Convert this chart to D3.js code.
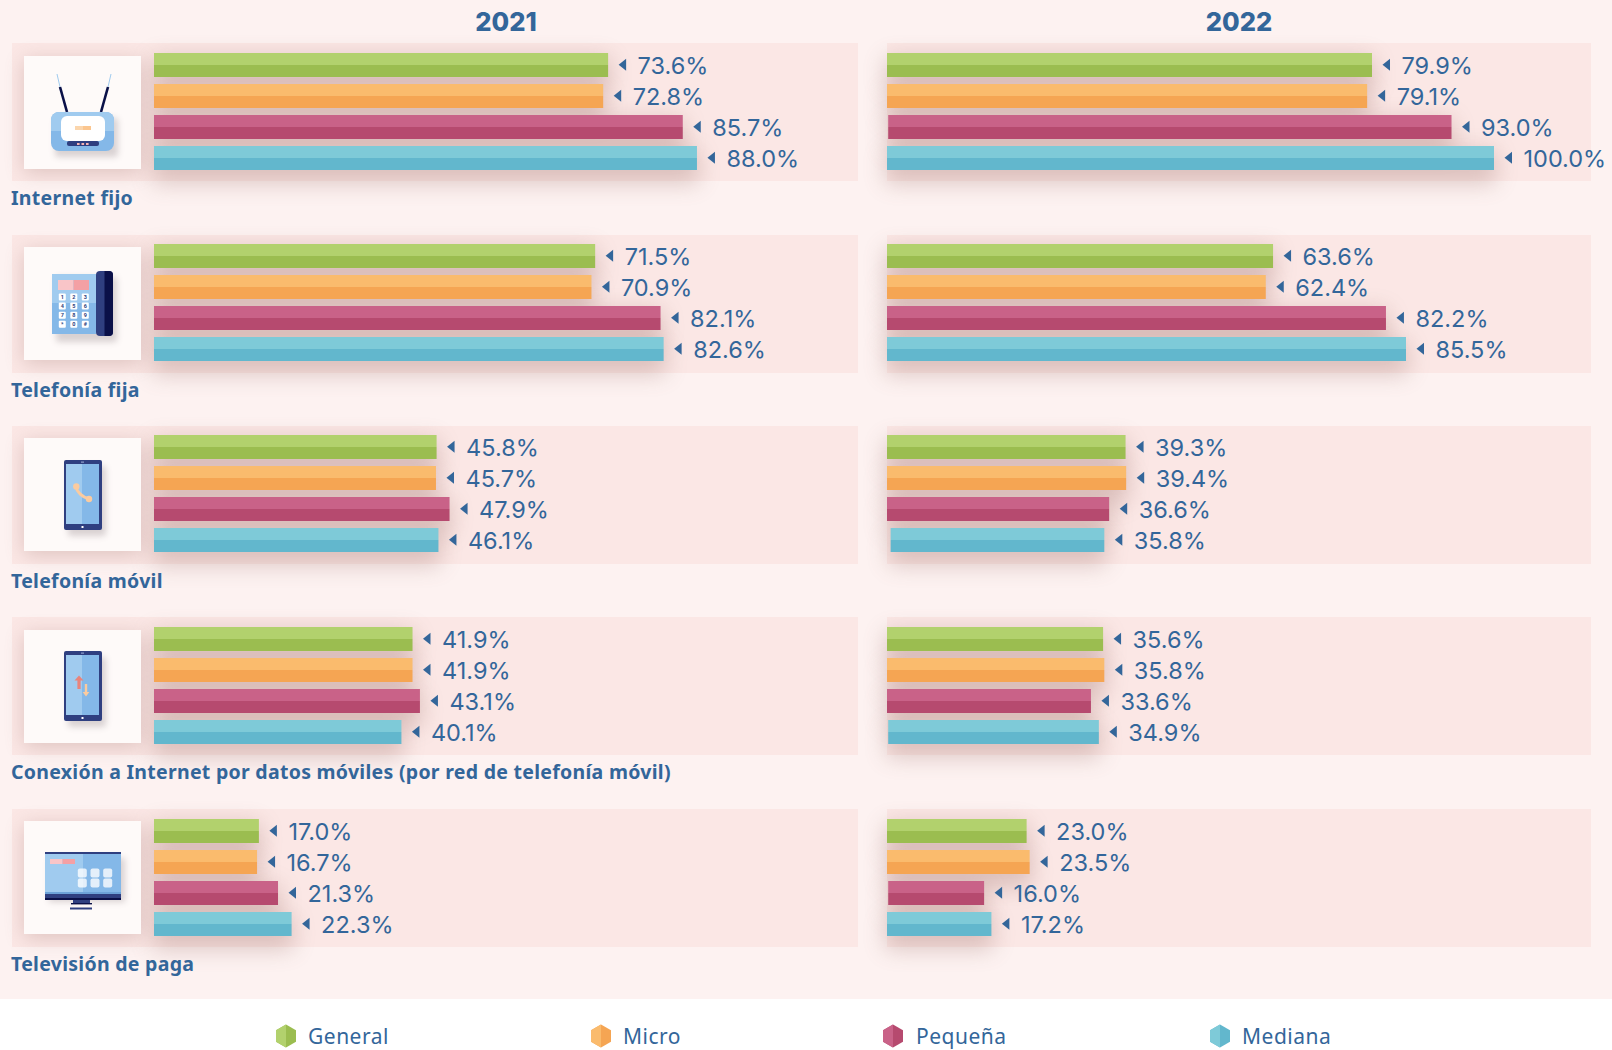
<!DOCTYPE html>
<html><head><meta charset="utf-8">
<script src="https://cdnjs.cloudflare.com/ajax/libs/d3/7.8.5/d3.min.js"></script>
<style>html,body{margin:0;padding:0;background:#fff}svg{display:block}</style>
</head><body><svg id="c" width="1612" height="1050"></svg>
<script>
const categories = ["Internet fijo","Telefonía fija","Telefonía móvil","Conexión a Internet por datos móviles (por red de telefonía móvil)","Televisión de paga"];
const seriesNames = ["General","Micro","Pequeña","Mediana"];
const years = ["2021","2022"];
const general2021 = [73.6,71.5,45.8,41.9,17.0];
const micro2021   = [72.8,70.9,45.7,41.9,16.7];
const pequena2021 = [85.7,82.1,47.9,43.1,21.3];
const mediana2021 = [88.0,82.6,46.1,40.1,22.3];
const general2022 = [79.9,63.6,39.3,35.6,23.0];
const micro2022   = [79.1,62.4,39.4,35.8,23.5];
const pequena2022 = [93.0,82.2,36.6,33.6,16.0];
const mediana2022 = [100.0,85.5,35.8,34.9,17.2];
// The picture draws a few bars slightly differently from their printed value:
// [year, series index, category index, drawn start, drawn end].
const drawnExceptions = [
  ["2021",2,4,0,20.1],
  ["2022",2,0,0.2,93.0],
  ["2022",3,2,0.6,35.8],
  ["2022",3,3,0.2,34.9],
  ["2022",2,4,0.2,16.0]
];
const lightColors = ["#b2d16d","#fabb6d","#c96288","#7ecad8"];
const darkColors  = ["#9bbd50","#f5a553","#b64a6f","#62b7cd"];
const values = {"2021":[general2021,micro2021,pequena2021,mediana2021],"2022":[general2022,micro2022,pequena2022,mediana2022]};
const drawn=(y,si,ci)=>{const e=drawnExceptions.find(d=>d[0]===y&&d[1]===si&&d[2]===ci);return e?[e[3],e[4]]:[0,values[y][si][ci]];};

const BLUE="#33669a", L="#a0cbef", D="#84b8e8", NAVY="#2f3f80", INK="#0a1048";
const svg=d3.select("#c");
const defs=svg.append("defs");
const blur=(id,s)=>defs.append("filter").attr("id",id).attr("x","-30%").attr("y","-120%").attr("width","160%").attr("height","340%")
  .append("feGaussianBlur").attr("stdDeviation",s);
blur("sh",11); blur("sh2",10); blur("ish",3);

svg.append("rect").attr("width",1612).attr("height",999).attr("fill","#fdf2f1");

const yRow=d3.scaleOrdinal().domain(categories).range([43,235,426,617,809]);
const barOffset=d3.scaleOrdinal().domain(categories).range([10,9,9,10,10]);
const boxOffset=d3.scaleOrdinal().domain(categories).range([13,12,12,13,12]);
const panelH=138;
const panels={"2021":{x0:12,x1:858,bar:d3.scaleLinear().domain([0,100]).range([154,771])},
              "2022":{x0:887,x1:1591,bar:d3.scaleLinear().domain([0,100]).range([887,1494])}};
const yBar=d3.scaleBand().domain(seriesNames).range([0,24*4+7*3]).paddingInner(7/31).paddingOuter(0);

svg.selectAll("text.yr").data(years).join("text").attr("class","yr")
  .attr("x",(d,i)=>[506,1239][i]).attr("y",31).attr("text-anchor","middle")
  .attr("font-family","Inter").attr("font-weight",800).attr("font-size",25.5).attr("fill",BLUE).text(d=>d);

years.forEach(y=>{
  const p=panels[y];
  svg.selectAll(null).data(categories).join("rect").attr("x",p.x0).attr("y",d=>yRow(d)).attr("width",p.x1-p.x0).attr("height",panelH).attr("fill","#fbe7e5");
});
years.forEach(y=>{
  const p=panels[y];
  categories.forEach((c,ci)=>{
    const g=svg.append("g").attr("transform",`translate(0,${yRow(c)+barOffset(c)})`);
    seriesNames.forEach((s,si)=>{
      const [a,b]=drawn(y,si,ci);
      g.append("rect").attr("x",p.bar(a)-2).attr("y",yBar(s)+4).attr("width",p.bar(b)-p.bar(a)+4).attr("height",yBar.bandwidth()+10)
       .attr("fill","#8a5a52").attr("opacity",.27).attr("filter","url(#sh)");
    });
  });
});
categories.forEach(c=>{
  svg.append("rect").attr("x",24).attr("y",yRow(c)+boxOffset(c)+4).attr("width",117).attr("height",113).attr("fill","#8a5a52").attr("opacity",.26).attr("filter","url(#sh2)");
});
years.forEach(y=>{
  const p=panels[y];
  categories.forEach((c,ci)=>{
    const g=svg.append("g").attr("transform",`translate(0,${yRow(c)+barOffset(c)})`);
    const rows=seriesNames.map((s,si)=>{const [a,b]=drawn(y,si,ci);return {s,si,v:values[y][si][ci],a,b};});
    const bh=yBar.bandwidth();
    g.selectAll("rect.t").data(rows).join("rect").attr("class","t").attr("x",d=>p.bar(d.a)).attr("y",d=>yBar(d.s)).attr("width",d=>p.bar(d.b)-p.bar(d.a)).attr("height",bh/2).attr("fill",d=>lightColors[d.si]);
    g.selectAll("rect.b").data(rows).join("rect").attr("class","b").attr("x",d=>p.bar(d.a)).attr("y",d=>yBar(d.s)+bh/2).attr("width",d=>p.bar(d.b)-p.bar(d.a)).attr("height",bh/2).attr("fill",d=>darkColors[d.si]);
    g.selectAll("path.m").data(rows).join("path").attr("class","m")
      .attr("transform",d=>`translate(${p.bar(d.b)+10.5},${yBar(d.s)+bh/2-0.3})`).attr("d","M0 0L7.5 -6V6Z").attr("fill",BLUE);
    g.selectAll("text.v").data(rows).join("text").attr("class","v")
      .attr("x",d=>p.bar(d.b)+29.5).attr("y",d=>yBar(d.s)+bh/2+8.8)
      .attr("font-family","Inter").attr("font-size",23.5).attr("letter-spacing",0).attr("fill",BLUE).text(d=>d.v.toFixed(1)+"%");
  });
});
svg.selectAll("text.cat").data(categories).join("text").attr("class","cat").attr("x",11).attr("y",d=>yRow(d)+161.5)
  .attr("font-family","Noto Sans").attr("font-weight",700).attr("font-size",19.5).attr("letter-spacing",0.28).attr("fill",BLUE).text(d=>d);

function R(g,x,y,w,h,f,r,o){const e=g.append("rect").attr("x",x).attr("y",y).attr("width",w).attr("height",h).attr("fill",f);if(r)e.attr("rx",r);if(o!=null)e.attr("opacity",o);return e;}
function box(c){const g=svg.append("g").attr("transform",`translate(24,${yRow(c)+boxOffset(c)})`);R(g,0,0,117,113,"#fefaf9");return g;}
function iconShadow(g,x,y,w,h){R(g,x+4,y+6,w,h,"#7a6a70",3,.28).attr("filter","url(#ish)");}

(function(g){
  iconShadow(g,27,56,63,39);
  g.append("line").attr("x1",33).attr("y1",18).attr("x2",36).attr("y2",31).attr("stroke",L).attr("stroke-width",1);
  g.append("line").attr("x1",36).attr("y1",31).attr("x2",43).attr("y2",56).attr("stroke",INK).attr("stroke-width",2.6);
  g.append("line").attr("x1",87).attr("y1",18).attr("x2",84).attr("y2",31).attr("stroke",L).attr("stroke-width",1);
  g.append("line").attr("x1",84).attr("y1",31).attr("x2",77).attr("y2",56).attr("stroke",INK).attr("stroke-width",2.6);
  R(g,27,56,63,39,D,8);
  g.append("path").attr("d","M27 75V64a8 8 0 0 1 8-8h47a8 8 0 0 1 8 8v11z").attr("fill",L);
  R(g,37,60,44,25,"#fff",6);
  R(g,51,70,8,4,"#fbd6ad");R(g,59,70,8,4,"#fbc68f");
  R(g,43,85,32,5,NAVY,2);
  [53,57.5,62].forEach(x=>R(g,x,87,2.6,2,"#f7b3b3"));
})(box(categories[0]));

(function(g){
  iconShadow(g,28,24,61,65);
  R(g,28,27,44,60,D);
  R(g,28,27,44,29,L);
  R(g,34,33,15.5,10,"#f9c5c8");R(g,49.5,33,15.5,10,"#f4a0a4");
  const keys=["1","2","3","4","5","6","7","8","9","*","0","#"];
  const kx=d3.scalePoint().domain([0,1,2]).range([38.3,61.3]);
  const ky=d3.scalePoint().domain([0,1,2,3]).range([50,77.3]);
  keys.forEach((k,i)=>{
    const cx=kx(i%3),cy=ky(Math.floor(i/3));
    R(g,cx-3.5,cy-3.5,7,7,"#fff",1);
    g.append("text").attr("x",cx).attr("y",cy+2).attr("text-anchor","middle").attr("font-family","Roboto").attr("font-size",5.5).attr("font-weight",700).attr("fill",NAVY).text(k);
  });
  R(g,72,24,17,65,NAVY,4);
  g.append("path").attr("d","M80.5 24h4.5a4 4 0 0 1 4 4v57a4 4 0 0 1-4 4h-4.5z").attr("fill",INK);
})(box(categories[1]));

function mobile(g,top){
  iconShadow(g,40,top,38,70);
  R(g,40,top,38,70,NAVY,2);
  R(g,42,top+4,16,60,L);R(g,58,top+4,17,60,D);
  R(g,57.5,top+66,2,2,"#fff");
  R(g,57,top+1.6,3,1,"#9fb0d8");
}
(function(g){
  mobile(g,22);
  g.append("path").attr("d","M52 49c1 5 6 10 13 12").attr("fill","none").attr("stroke","#fbcb9f").attr("stroke-width",3);
  g.append("circle").attr("cx",52.3).attr("cy",48.5).attr("r",3.2).attr("fill","#fbcb9f");
  g.append("circle").attr("cx",65).attr("cy",61).attr("r",3.2).attr("fill","#fbcb9f");
})(box(categories[2]));
(function(g){
  mobile(g,21);
  R(g,53.4,49,3.2,10,"#e9847c");
  g.append("path").attr("d","M50.5 50.5L55 45.5L59.5 50.5Z").attr("fill","#e9847c");
  R(g,60.8,54,2.4,9,"#fbcb9f");
  g.append("path").attr("d","M58.6 62L62 66.5L65.4 62Z").attr("fill","#fbcb9f");
})(box(categories[3]));
(function(g){
  R(g,25,37,76,44,"#7a6a70",0,.28).attr("filter","url(#ish)");
  R(g,21,33,38,38,L);R(g,59,33,38,38,D);
  R(g,21,31,76,2,NAVY);
  R(g,21,71,76,2,"#6da2d8");
  R(g,21,73,76,4,NAVY);
  R(g,21,77,76,2,INK);
  R(g,49,79,17,3,NAVY);
  R(g,47,82,21,1.4,INK);
  R(g,46,86.5,22,2,NAVY);
  R(g,26,38,12.5,5,"#f9c5c8");R(g,38.5,38,12.5,5,"#f4a0a4");
  [58.3,71,83.7].forEach(x=>[52,62].forEach(y=>R(g,x-4.5,y-4.5,9,9,"#fff",2,.78)));
})(box(categories[4]));

const legendHex=[286,601,893,1220], legendText=[308,623,916,1242];
const leg=svg.selectAll("g.leg").data(seriesNames).join("g").attr("class","leg").attr("transform",(d,i)=>`translate(${legendHex[i]},1036)`);
leg.append("path").attr("d","M0 -11.5L10 -5.8V5.8L0 11.5L-10 5.8V-5.8Z").attr("fill",(d,i)=>darkColors[i]);
leg.append("path").attr("d","M0 -11.5L-10 -5.8V5.8L0 11.5Z").attr("fill",(d,i)=>lightColors[i]);
svg.selectAll("text.lt").data(seriesNames).join("text").attr("class","lt").attr("x",(d,i)=>legendText[i]).attr("y",1043.5)
  .attr("font-family","Noto Sans").attr("font-size",21).attr("letter-spacing",0.5).attr("fill",BLUE).text(d=>d);
</script></body></html>
